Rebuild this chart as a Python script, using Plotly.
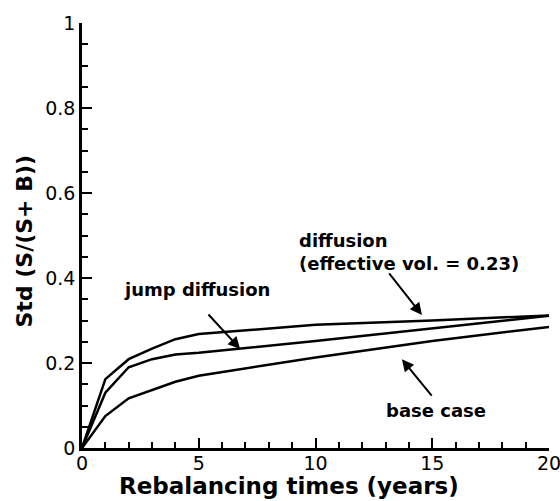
import plotly.graph_objects as go

years = [0, 1, 2, 3, 4, 5, 10, 15, 20]
diffusion = [0, 0.162, 0.209, 0.234, 0.256, 0.268, 0.290, 0.300, 0.312]
jump_diffusion = [0, 0.130, 0.190, 0.209, 0.220, 0.224, 0.252, 0.282, 0.311]
base_case = [0, 0.075, 0.117, 0.137, 0.156, 0.170, 0.213, 0.252, 0.285]

ytick_vals = [0, 0.2, 0.4, 0.6, 0.8, 1]
ytick_text = ["0", "0.2", "0.4", "0.6", "0.8", "1"]
xtick_vals = [0, 5, 10, 15, 20]
xtick_text = ["0", "5", "10", "15", "20"]

FONT = "DejaVu Sans, Arial, Helvetica, sans-serif"

fig = go.Figure()
for ys in (diffusion, jump_diffusion, base_case):
    fig.add_trace(go.Scatter(x=years, y=ys, mode="lines",
                             line=dict(color="black", width=2.5),
                             showlegend=False, cliponaxis=False))

# labels
lab_font = dict(family=FONT, size=18, color="black")
fig.add_annotation(x=1.72, y=0.372, xref="x", yref="y", text="<b>jump diffusion</b>",
                   showarrow=False, xanchor="left", yanchor="middle", font=lab_font)
fig.add_annotation(x=9.2, y=0.462, xref="x", yref="y",
                   text="<b>diffusion</b><br><b>(effective vol. = 0.23)</b>",
                   showarrow=False, xanchor="left", yanchor="middle", align="left",
                   font=lab_font)
fig.add_annotation(x=12.95, y=0.089, xref="x", yref="y", text="<b>base case</b>",
                   showarrow=False, xanchor="left", yanchor="middle", font=lab_font)

# arrows
arrow_style = dict(showarrow=True, arrowhead=2, arrowsize=1.2, arrowwidth=2,
                   arrowcolor="black", text="", xref="x", yref="y")
fig.add_annotation(x=6.77, y=0.233, ax=-33, ay=-36, **arrow_style)
fig.add_annotation(x=14.56, y=0.313, ax=-34, ay=-43, **arrow_style)
fig.add_annotation(x=13.7, y=0.209, ax=31, ay=38, **arrow_style)

# axis titles
title_font = dict(family=FONT, size=23, color="black")
fig.add_annotation(x=0.443, y=-0.090, xref="paper", yref="paper",
                   text="<b>Rebalancing times (years)</b>", showarrow=False,
                   xanchor="center", yanchor="middle", font=title_font)
fig.add_annotation(x=-0.124, y=0.486, xref="paper", yref="paper",
                   text="<b>Std (S/(S+ B))</b>", showarrow=False, textangle=-90,
                   xanchor="center", yanchor="middle", font=dict(family=FONT, size=22, color="black"))

axis_common = dict(showline=True, linecolor="black", linewidth=2.5,
                   ticks="inside", ticklen=10, tickwidth=2, tickcolor="black",
                   showgrid=False, zeroline=False, mirror=False,
                   ticklabeloverflow="allow",
                   tickfont=dict(family=FONT, size=19, color="black"))

fig.update_xaxes(range=[0, 20], tickvals=xtick_vals, ticktext=xtick_text,
                 minor=dict(dtick=1, ticklen=6, tickwidth=1.5, tickcolor="black", ticks="inside"),
                 ticklabelstandoff=-4, **axis_common)
fig.update_yaxes(range=[0, 1], tickvals=ytick_vals, ticktext=ytick_text,
                 minor=dict(dtick=0.05, ticklen=6, tickwidth=1.5, tickcolor="black", ticks="inside"),
                 **axis_common)

fig.update_layout(width=560, height=501, margin=dict(l=82, r=11, t=23, b=53, autoexpand=False),
                  plot_bgcolor="white", paper_bgcolor="white")

fig.write_html("out.html")
